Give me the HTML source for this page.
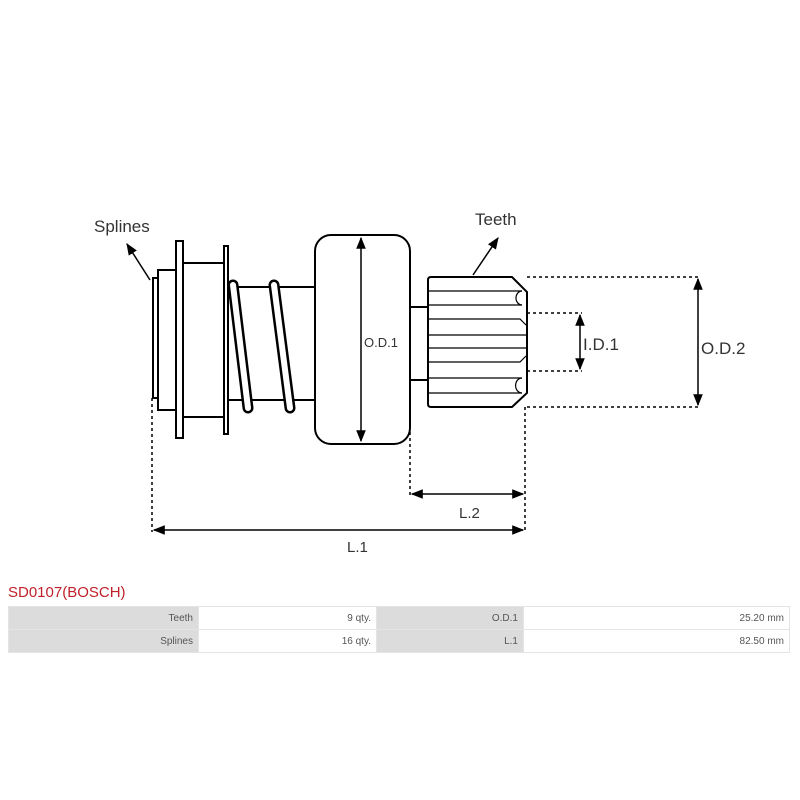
<!DOCTYPE html>
<html><head><style>
body{margin:0;background:#fff;width:800px;height:800px;overflow:hidden;font-family:"Liberation Sans",sans-serif}
svg{position:absolute;left:0;top:0}
.t{position:absolute;left:8px;top:606px;width:781px;table-layout:fixed;border-collapse:collapse;font-size:10px;color:#555}
.t td{border:1px solid #e4e4e4;height:22px;padding:0 5px;text-align:right;overflow:hidden}
.g{background:#dcdcdc}
</style></head><body>
<svg width="800" height="800" viewBox="0 0 800 800">
<defs><marker id="a" viewBox="0 0 10 10" refX="9" refY="5" markerWidth="8" markerHeight="8" orient="auto-start-reverse"><path d="M0,1 L10,5 L0,9z" fill="#000"/></marker></defs>
<g fill="#fff" stroke="#000" stroke-width="2">
<rect x="153" y="278" width="5" height="120"/>
<rect x="158" y="270" width="18" height="140"/>
<rect x="176" y="241" width="7" height="197"/>
<rect x="183" y="263" width="41" height="154"/>
<rect x="224" y="246" width="4" height="188"/>
<rect x="228" y="287" width="88" height="113"/>
</g>
<g stroke-linecap="round">
<line x1="233" y1="285" x2="248" y2="408" stroke="#000" stroke-width="11"/>
<line x1="233" y1="285" x2="248" y2="408" stroke="#fff" stroke-width="6"/>
<line x1="274" y1="285" x2="290" y2="408" stroke="#000" stroke-width="11"/>
<line x1="274" y1="285" x2="290" y2="408" stroke="#fff" stroke-width="6"/>
</g>
<g fill="#fff" stroke="#000" stroke-width="2">
<rect x="315" y="235" width="95" height="209" rx="16"/>
<rect x="410" y="307" width="18" height="73"/>
<path d="M428,280 Q428,277 431,277 L512,277 L527,292 L527,393 L512,407 L431,407 Q428,407 428,404 Z"/>
</g>
<g stroke="#000" stroke-width="1.2" fill="none">
<path d="M428,291H522M428,305H522M428,319H520L526,325M428,335H526M428,348H526M428,362H520L526,356M428,378H522M428,393H522"/>
<path d="M522,291 a6,7 0 0 0 0,14M522,378 a6,7 0 0 0 0,15"/>
</g>
<g stroke="#000" stroke-width="1.5" stroke-dasharray="3,3" fill="none">
<path d="M527,277H700M527,407H700M527,313H582M527,371H582M152,398V532M410,432V497M525,407V532"/>
</g>
<g stroke="#000" stroke-width="1.5" fill="none" marker-end="url(#a)" marker-start="url(#a)">
<line x1="361" y1="238" x2="361" y2="441"/>
<line x1="698" y1="279" x2="698" y2="405"/>
<line x1="580" y1="315" x2="580" y2="369"/>
<line x1="412" y1="494" x2="523" y2="494"/>
<line x1="154" y1="530" x2="523" y2="530"/>
</g>
<g stroke="#000" stroke-width="1.5" marker-end="url(#a)">
<line x1="150" y1="280" x2="127" y2="244"/>
<line x1="473" y1="275" x2="498" y2="238"/>
</g>
<g font-family="Liberation Sans,sans-serif" fill="#333">
<text x="94" y="232" font-size="17">Splines</text>
<text x="475" y="225" font-size="17">Teeth</text>
<text x="364" y="347" font-size="13">O.D.1</text>
<text x="583" y="350" font-size="17">I.D.1</text>
<text x="701" y="354" font-size="17">O.D.2</text>
<text x="459" y="518" font-size="15">L.2</text>
<text x="347" y="552" font-size="15">L.1</text>
<text x="8" y="597" font-size="15" fill="#c0202a">SD0107(BOSCH)</text>
</g>
</svg>
<table class="t">
<colgroup><col style="width:190px"><col style="width:178px"><col style="width:147px"><col style="width:266px"></colgroup>
<tr><td class="g">Teeth</td><td>9 qty.</td><td class="g">O.D.1</td><td>25.20 mm</td></tr>
<tr><td class="g">Splines</td><td>16 qty.</td><td class="g">L.1</td><td>82.50 mm</td></tr>
</table>
</body></html>
